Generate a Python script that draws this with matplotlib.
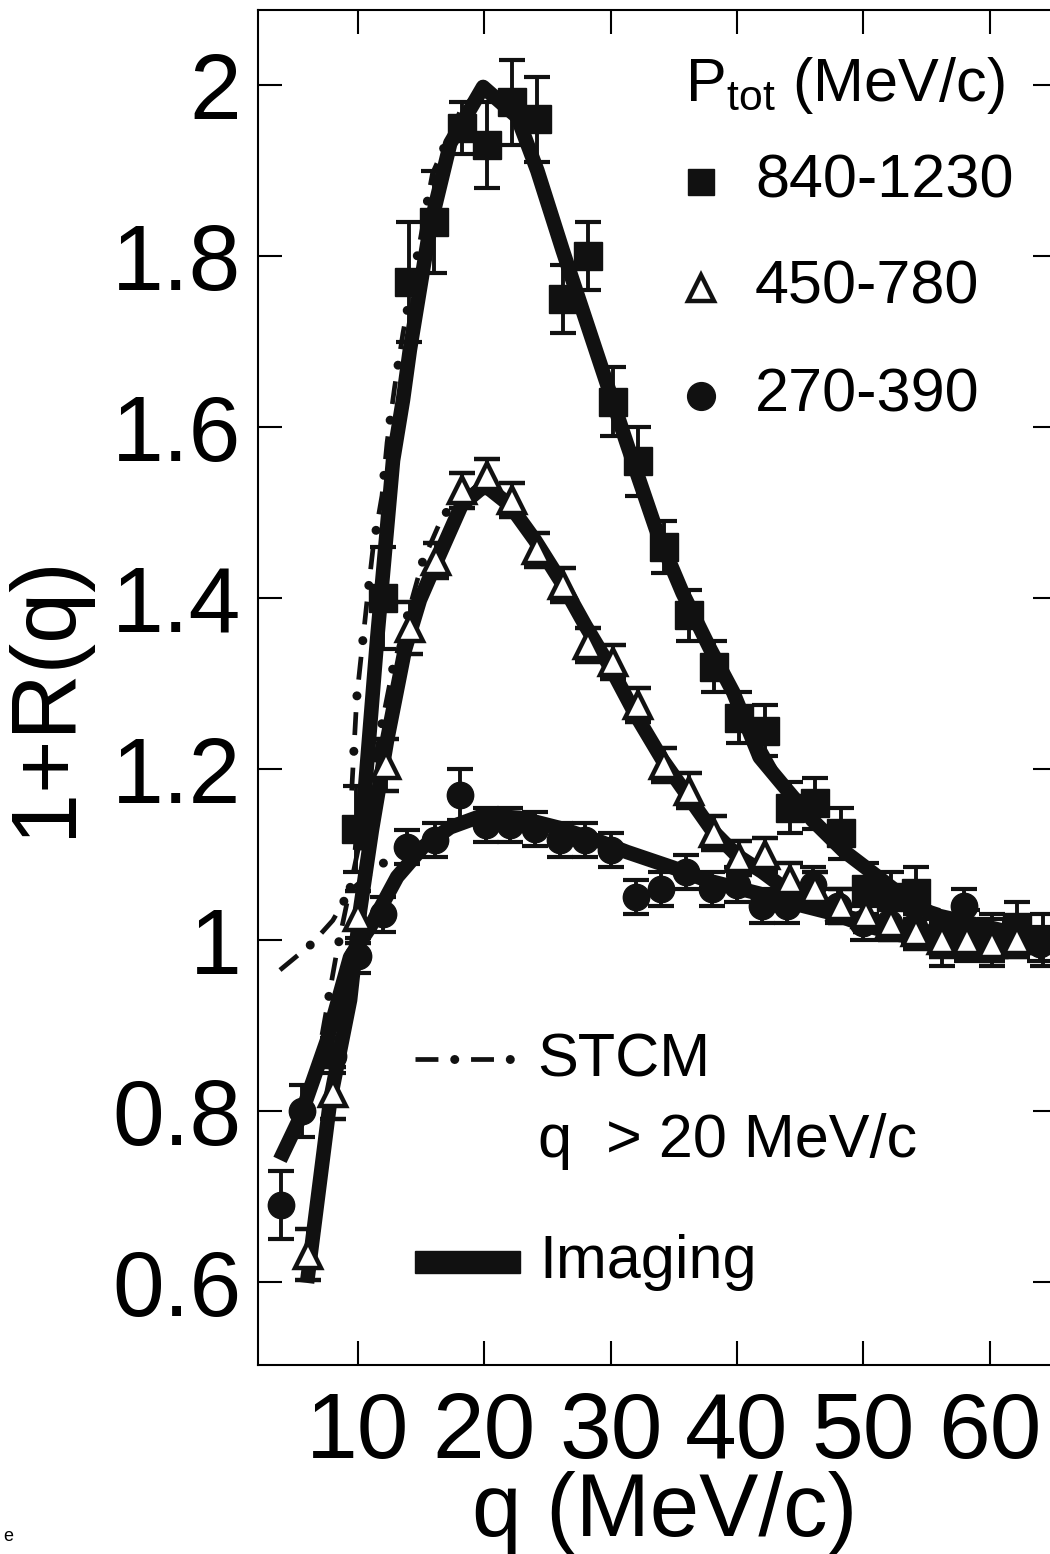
import matplotlib
matplotlib.use("Agg")
import matplotlib.pyplot as plt
from matplotlib.lines import Line2D
from matplotlib.patches import Rectangle

plt.rcParams['font.family'] = ['Liberation Sans', 'DejaVu Sans']
plt.rcParams['lines.scale_dashes'] = False

# data points, 840-1230 MeV/c (squares)
q_sq = [9.8, 12.0, 14.0, 16.0, 18.2, 20.2, 22.2, 24.2, 26.2, 28.2, 30.2, 32.2, 34.2, 36.2,
        38.2, 40.2, 42.2, 44.2, 46.2, 48.2, 50.2, 52.2, 54.2, 56.2, 58.2, 60.2, 62.2, 64.2]
r_sq = [1.13, 1.40, 1.77, 1.84, 1.95, 1.93, 1.98, 1.96, 1.75, 1.80, 1.63, 1.56, 1.46, 1.38,
        1.32, 1.26, 1.245, 1.155, 1.16, 1.125, 1.06, 1.05, 1.055, 1.0, 1.005, 1.0, 1.015, 1.0]
e_sq = [0.05, 0.06, 0.07, 0.06, 0.03, 0.05, 0.05, 0.05, 0.04, 0.04, 0.04, 0.04, 0.03, 0.03,
        0.03, 0.03, 0.03, 0.03, 0.03, 0.03, 0.03, 0.03, 0.03, 0.03, 0.03, 0.03, 0.03, 0.03]

# 450-780 MeV/c (open triangles)
q_tr = [6.0, 8.0, 10.0, 12.2, 14.1, 16.2, 18.2, 20.2, 22.2, 24.2, 26.2, 28.2, 30.2, 32.2,
        34.2, 36.2, 38.2, 40.2, 42.2, 44.2, 46.2, 48.2, 50.2, 52.2, 54.2, 56.2, 58.2, 60.2, 62.2]
r_tr = [0.632, 0.821, 1.027, 1.205, 1.365, 1.444, 1.526, 1.543, 1.515, 1.456, 1.415, 1.345, 1.325, 1.275,
        1.205, 1.175, 1.125, 1.096, 1.10, 1.07, 1.06, 1.04, 1.03, 1.02, 1.01, 1.0, 1.0, 0.995, 1.0]
e_tr = [0.03, 0.03, 0.03, 0.03, 0.03, 0.02, 0.02, 0.02, 0.02, 0.02, 0.02, 0.02, 0.02, 0.02,
        0.02, 0.02, 0.02, 0.02, 0.02, 0.02, 0.02, 0.02, 0.02, 0.02, 0.02, 0.02, 0.02, 0.02, 0.02]

# 270-390 MeV/c (circles)
q_ci = [3.9, 5.6, 8.0, 10.0, 12.0, 13.9, 16.1, 18.1, 20.1, 22.0, 24.0, 26.0, 28.0, 30.0, 32.0,
        34.0, 36.0, 38.0, 40.0, 42.0, 44.0, 46.0, 48.0, 50.0, 52.0, 54.0, 56.0, 58.0, 60.0, 62.0, 64.0]
r_ci = [0.69, 0.80, 0.865, 0.982, 1.03, 1.109, 1.117, 1.17, 1.135, 1.135, 1.13, 1.117, 1.117, 1.105, 1.05,
        1.06, 1.08, 1.06, 1.065, 1.04, 1.04, 1.065, 1.04, 1.02, 1.02, 1.015, 1.01, 1.04, 1.005, 1.0, 0.995]
e_ci = [0.04, 0.03, 0.02, 0.02, 0.02, 0.02, 0.02, 0.03, 0.02, 0.02, 0.02, 0.02, 0.02, 0.02, 0.02,
        0.02, 0.02, 0.02, 0.02, 0.02, 0.02, 0.02, 0.02, 0.02, 0.02, 0.02, 0.02, 0.02, 0.02, 0.02, 0.02]

# imaging curves (thick bands)
qi_sq = [10.16, 11.5, 12.77, 13.56, 14.1, 15.7, 17.3, 19.9, 22.6, 24.2, 26.2, 28.6, 29.95, 31.3, 33.7,
         35.7, 37.9, 39.7, 41.8, 44.0, 46.0, 48.4, 50.8, 53.5, 55.5, 60.8, 65.3]
ri_sq = [1.105, 1.35, 1.561, 1.632, 1.69, 1.834, 1.932, 1.998, 1.963, 1.90, 1.807, 1.70, 1.64, 1.58, 1.476,
         1.406, 1.34, 1.29, 1.214, 1.175, 1.14, 1.105, 1.078, 1.047, 1.03, 1.012, 1.0]

qi_tr = [5.96, 7.8, 9.37, 10.16, 11.1, 12.3, 13.7, 14.9, 16.25, 18.2, 20.05, 22.0, 24.0, 26.0, 28.0,
         30.1, 32.0, 34.1, 36.05, 38.0, 40.0, 42.0, 44.0, 45.9, 48.0, 50.0, 52.9, 56.9, 65.3]
ri_tr = [0.599, 0.813, 0.93, 1.035, 1.129, 1.234, 1.339, 1.398, 1.444, 1.509, 1.532, 1.509, 1.468, 1.421, 1.368,
         1.316, 1.263, 1.211, 1.170, 1.129, 1.099, 1.080, 1.058, 1.041, 1.029, 1.018, 1.006, 1.0, 0.994]

qi_ci = [3.82, 5.4, 7.55, 9.37, 10.95, 13.1, 15.15, 17.3, 19.9, 22.8, 26.0, 29.2, 31.3, 34.9, 37.6,
         41.6, 45.0, 49.0, 52.9, 56.9, 65.3]
ri_ci = [0.743, 0.792, 0.883, 0.980, 1.015, 1.074, 1.109, 1.132, 1.146, 1.143, 1.131, 1.115, 1.103, 1.085, 1.07,
         1.055, 1.041, 1.026, 1.014, 1.006, 0.994]

# STCM curves (dash-dot)
qs_sq = [9.5, 9.9, 10.7, 11.2, 11.9, 12.3, 12.9, 13.56, 15.9, 18.1, 20.05, 22.6, 24.2, 26.2, 28.6, 31.3,
         35.7, 39.7, 44.0, 48.4, 53.5, 60.8, 65.3]
rs_sq = [1.175, 1.284, 1.395, 1.46, 1.52, 1.582, 1.647, 1.71, 1.897, 1.97, 1.994, 1.96, 1.90, 1.805, 1.70, 1.58,
         1.405, 1.29, 1.175, 1.105, 1.047, 1.012, 1.0]

qs_tr = [7.15, 8.34, 10.16, 11.9, 12.77, 15.07, 16.73, 20.05, 22.0, 26.0, 30.1, 34.1, 38.0, 42.0, 46.0,
         50.0, 56.9, 65.3]
rs_tr = [0.889, 0.988, 1.117, 1.254, 1.319, 1.441, 1.497, 1.54, 1.515, 1.42, 1.316, 1.211, 1.129, 1.080, 1.041,
         1.018, 1.0, 0.994]

qs_ci = [3.82, 6.36, 8.0, 9.37, 12.0, 14.1, 17.3, 20.05, 22.8, 26.0, 31.3, 37.6, 45.0, 52.9, 65.3]
rs_ci = [0.965, 0.996, 1.023, 1.058, 1.09, 1.111, 1.131, 1.143, 1.143, 1.131, 1.103, 1.07, 1.041, 1.014, 0.994]

y_ticks = [0.6, 0.8, 1.0, 1.2, 1.4, 1.6, 1.8, 2.0]
y_labels = ['0.6', '0.8', '1', '1.2', '1.4', '1.6', '1.8', '2']
x_ticks = [10, 20, 30, 40, 50, 60]

INK = '#111111'
DASH = (0, (16.5, 23.5))
DOTS = (11.75, (0.01, 39.99))


def stcm_line(ax, x, y, transform=None):
    kw = {} if transform is None else {'transform': transform, 'clip_on': False}
    ax.plot(x, y, color=INK, lw=3.4, linestyle=DASH, solid_capstyle='butt', zorder=4, **kw)
    ax.plot(x, y, color=INK, lw=6.5, linestyle=DOTS, dash_capstyle='round', zorder=4, **kw)


fig = plt.figure(figsize=(10.5, 15.54), dpi=100)
ax = fig.add_axes([258 / 1050, 189 / 1554, 799 / 1050, 1355 / 1554])

# imaging bands
for qq, rr in [(qi_sq, ri_sq), (qi_tr, ri_tr), (qi_ci, ri_ci)]:
    ax.plot(qq, rr, color=INK, lw=10.5, solid_capstyle='butt', solid_joinstyle='round', zorder=3)

# STCM
for qq, rr in [(qs_sq, rs_sq), (qs_tr, rs_tr), (qs_ci, rs_ci)]:
    stcm_line(ax, qq, rr)

eb = dict(ecolor=INK, elinewidth=2.8, capsize=9.5, capthick=3.0, linestyle='none', zorder=5)
ax.errorbar(q_sq, r_sq, yerr=e_sq, fmt='s', ms=19.5, mfc=INK, mec=INK, **eb)
ax.errorbar(q_ci, r_ci, yerr=e_ci, fmt='o', ms=19, mfc=INK, mec=INK, **eb)
ax.errorbar(q_tr, r_tr, yerr=e_tr, fmt='^', ms=19, mfc='white', mec=INK, mew=3.2, **eb)

ax.set_xlim(2.08, 65.34)
ax.set_ylim(0.503, 2.088)
ax.set_xticks(x_ticks)
ax.set_xticklabels([str(v) for v in x_ticks])
ax.set_yticks(y_ticks)
ax.set_yticklabels(y_labels)
ax.tick_params(direction='in', length=17, width=1.5, top=True, right=True, labelsize=67)
ax.tick_params(axis='y', pad=12)
ax.tick_params(axis='x', pad=19)
for sp in ax.spines.values():
    sp.set_linewidth(1.5)

ax.set_xlabel('q (MeV/c)', fontsize=64)
ax.xaxis.set_label_coords(0.509, -0.078)
ax.set_ylabel('1+R(q)', fontsize=66)
ax.yaxis.set_label_coords(-0.212, 0.494)

# legend for momentum bins
tA = ax.transAxes
ax.text(0.535, 0.944, r'P$_{\mathregular{tot}}$ (MeV/c)', transform=tA, fontsize=44, va='center', ha='left')
leg_rows = [('s', INK, '840-1230', 0.873), ('^', 'white', '450-780', 0.795), ('o', INK, '270-390', 0.715)]
for mk, fc, lab, yy in leg_rows:
    ax.add_line(Line2D([0.555], [yy], marker=mk, ms=19 if mk != 'o' else 20, mfc=fc, mec=INK,
                       mew=3.2 if mk == '^' else 1, transform=tA, clip_on=False))
    ax.text(0.622, yy, lab, transform=tA, fontsize=44, va='center', ha='left')

# legend for curves
stcm_line(ax, [0.197, 0.325], [0.226, 0.226], transform=tA)
ax.text(0.350, 0.224, 'STCM', transform=tA, fontsize=44, va='center', ha='left')
ax.text(0.350, 0.165, 'q  > 20 MeV/c', transform=tA, fontsize=44, va='center', ha='left')
ax.add_patch(Rectangle((0.197, 0.068), 0.131, 0.016, transform=tA, color=INK, clip_on=False))
ax.text(0.352, 0.076, 'Imaging', transform=tA, fontsize=44, va='center', ha='left')

fig.text(0.003, 0.006, 'e', fontsize=13, ha='left', va='bottom')

fig.savefig('out.png', dpi=100)
